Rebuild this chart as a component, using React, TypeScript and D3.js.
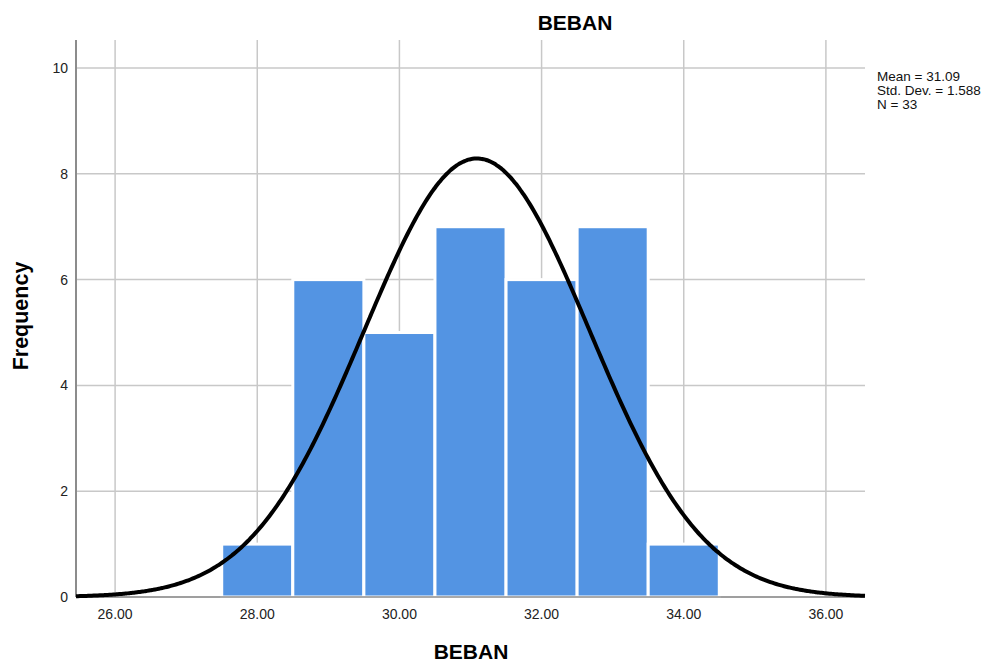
import React, { useEffect, useRef } from 'react';
import * as d3 from 'd3';

// bin centres (width 1) and their counts
const binCenters = [28, 29, 30, 31, 32, 33, 34];
const binCounts = [1, 6, 5, 7, 6, 7, 1];
const xTicks = [26, 28, 30, 32, 34, 36];
const yTicks = [0, 2, 4, 6, 8, 10];
const statLines = ['Mean = 31.09', 'Std. Dev. = 1.588', 'N = 33'];
const mean = 31.09;
const stdDev = 1.588;
const n = 33;

const App: React.FC = () => {
  const svgRef = useRef<SVGSVGElement>(null);

  useEffect(() => {
    if (!svgRef.current) return;
    const svg = d3.select(svgRef.current);
    svg.selectAll('*').remove();

    const width = 996;
    const height = 666;
    const plot = { left: 76, right: 865, top: 40, bottom: 597 };
    const font = '"Liberation Sans", Arial, sans-serif';

    const x = d3.scaleLinear().domain([25.45, 36.55]).range([plot.left, plot.right]);
    const y = d3.scaleLinear().domain([0, 10.53]).range([plot.bottom, plot.top]);

    svg.attr('width', width).attr('height', height);
    svg.append('rect').attr('width', width).attr('height', height).attr('fill', '#fff');

    // grid
    svg.append('g')
      .selectAll('line')
      .data(yTicks)
      .enter().append('line')
      .attr('x1', plot.left).attr('x2', plot.right)
      .attr('y1', d => y(d)).attr('y2', d => y(d))
      .attr('stroke', '#c8c8c8').attr('stroke-width', 1.5);

    svg.append('g')
      .selectAll('line')
      .data(xTicks)
      .enter().append('line')
      .attr('x1', d => x(d)).attr('x2', d => x(d))
      .attr('y1', plot.top).attr('y2', plot.bottom)
      .attr('stroke', '#c8c8c8').attr('stroke-width', 1.5);

    // bars
    svg.append('g')
      .selectAll('rect')
      .data(binCenters)
      .enter().append('rect')
      .attr('x', d => x(d - 0.5))
      .attr('width', d => x(d + 0.5) - x(d - 0.5))
      .attr('y', (d, i) => y(binCounts[i]))
      .attr('height', (d, i) => y(0) - y(binCounts[i]))
      .attr('fill', '#5394e3')
      .attr('stroke', '#fff')
      .attr('stroke-width', 3);

    // axes lines
    svg.append('line')
      .attr('x1', plot.left).attr('x2', plot.left)
      .attr('y1', plot.top).attr('y2', plot.bottom)
      .attr('stroke', '#8c8c8c').attr('stroke-width', 2);
    svg.append('line')
      .attr('x1', plot.left).attr('x2', plot.right)
      .attr('y1', plot.bottom).attr('y2', plot.bottom)
      .attr('stroke', '#8c8c8c').attr('stroke-width', 1.5);

    // normal curve
    const pdf = (v: number) =>
      (n * 1) / (stdDev * Math.sqrt(2 * Math.PI)) * Math.exp(-0.5 * ((v - mean) / stdDev) ** 2);
    const xs = d3.range(0, 401).map(i => 25.45 + (i / 400) * (36.55 - 25.45));
    const line = d3.line<number>().x(d => x(d)).y(d => y(pdf(d))).curve(d3.curveBasis);
    svg.append('path')
      .datum(xs)
      .attr('fill', 'none')
      .attr('stroke', '#000')
      .attr('stroke-width', 4)
      .attr('d', line);

    // tick labels
    svg.append('g')
      .selectAll('text')
      .data(xTicks)
      .enter().append('text')
      .attr('x', d => x(d)).attr('y', 619)
      .attr('text-anchor', 'middle')
      .attr('font-family', font).attr('font-size', 14).attr('fill', '#222')
      .text(d => d.toFixed(2));

    svg.append('g')
      .selectAll('text')
      .data(yTicks)
      .enter().append('text')
      .attr('x', 68).attr('y', d => y(d) + 5)
      .attr('text-anchor', 'end')
      .attr('font-family', font).attr('font-size', 14).attr('fill', '#222')
      .text(d => String(d));

    // titles
    svg.append('text')
      .attr('x', 575).attr('y', 30)
      .attr('text-anchor', 'middle')
      .attr('font-family', font).attr('font-size', 21).attr('font-weight', 'bold')
      .text('BEBAN');
    svg.append('text')
      .attr('x', 471).attr('y', 659)
      .attr('text-anchor', 'middle')
      .attr('font-family', font).attr('font-size', 21).attr('font-weight', 'bold')
      .text('BEBAN');
    svg.append('text')
      .attr('transform', 'translate(28,316) rotate(-90)')
      .attr('text-anchor', 'middle')
      .attr('font-family', font).attr('font-size', 21.5).attr('font-weight', 'bold')
      .text('Frequency');

    // stats
    svg.append('g')
      .selectAll('text')
      .data(statLines)
      .enter().append('text')
      .attr('x', 877).attr('y', (d, i) => 81 + i * 14)
      .attr('font-family', font).attr('font-size', 13.5).attr('fill', '#111')
      .text(d => d);
  }, []);

  return (
    <svg ref={svgRef} width={996} height={666} style={{ position: 'absolute', left: 0, top: 0 }} />
  );
};

export default App;
